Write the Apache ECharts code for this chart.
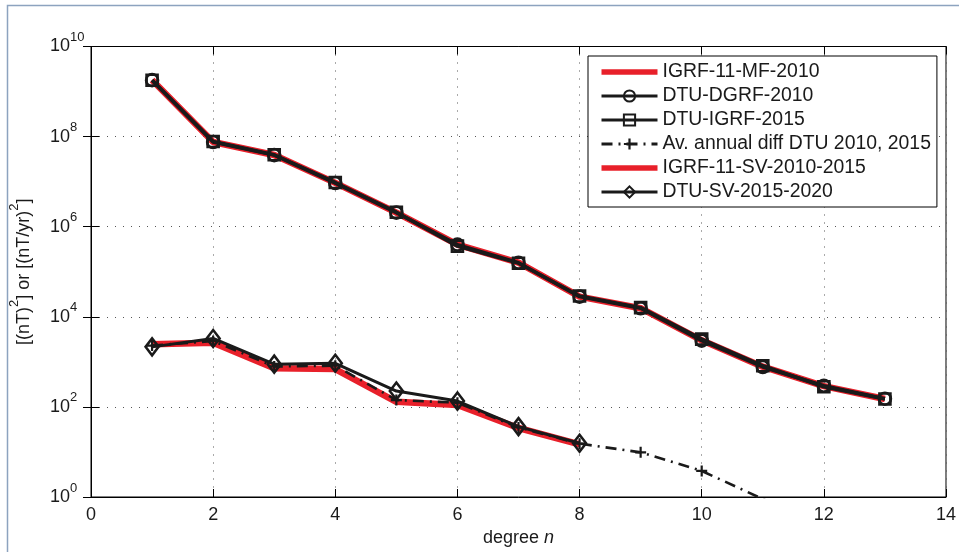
<!DOCTYPE html>
<html>
<head>
<meta charset="utf-8">
<script src="https://cdn.jsdelivr.net/npm/echarts@6/dist/echarts.min.js"></script>
<style>
  html, body { margin: 0; padding: 0; background: #fff; }
  #chart { width: 959px; height: 552px; }
</style>
</head>
<body>
<div id="chart"></div>
<script>
// Spherical harmonic degree
const degrees = [1, 2, 3, 4, 5, 6, 7, 8, 9, 10, 11, 12, 13];

// Main field power spectra [(nT)^2]
const igrfMf2010 = [1.80e9, 7.6e7, 3.9e7, 9.4e6, 2.05e6, 4.0e5, 1.6e5, 2.8e4, 1.55e4, 3.0e3, 780, 290, 150];
const dtuDgrf2010 = [1.79e9, 7.6e7, 3.88e7, 9.3e6, 2.05e6, 4.0e5, 1.58e5, 2.8e4, 1.55e4, 2.95e3, 770, 295, 152];
const dtuIgrf2015 = [1.78e9, 7.8e7, 3.95e7, 9.6e6, 2.1e6, 3.7e5, 1.55e5, 2.9e4, 1.6e4, 3.2e3, 820, 280, 150];

// Secular variation spectra [(nT/yr)^2]
const avAnnualDiff = [2300, 2900, 790, 820, 142, 124, 35, 15.3, 9.8, 3.8, 0.9, 0.35, 0.2];
const igrfSv20102015 = [2450, 2650, 720, 690, 130, 110, 34, 14.8];
const dtuSv20152020 = [2150, 3300, 890, 930, 225, 135, 36.5, 15.6];

// Axis ranges
const xTicks = { min: 0, max: 14, step: 2 };
const yRange = { min: 1, max: 1e10 };

const RED = '#e8202a';
const INK = '#1a1a1a';
const HOLLOW = 'rgba(0,0,0,0)';
const FONT = '"Liberation Sans", Arial, Helvetica, sans-serif';

// thick flat bar used as the legend swatch of the plain red curves
const RED_BAR_ICON = 'path://M0,0H56V5.7H0Z';

const pairs = (vals) => vals.map((v, i) => [degrees[i], v]);

const chart = echarts.init(document.getElementById('chart'), null, { renderer: 'canvas' });

const supRich = {
  b: { fontSize: 18, lineHeight: 20, verticalAlign: 'middle', color: INK, fontFamily: FONT },
  s: { fontSize: 13, lineHeight: 13, padding: [0, 0, 18, 0], verticalAlign: 'middle', color: INK, fontFamily: FONT }
};

const gridRect = { left: 91, right: 11, top: 46.5, bottom: 55 };

const xCommon = {
  type: 'value', min: xTicks.min, max: xTicks.max, interval: xTicks.step,
  axisTick: { show: true, inside: true, length: 8, lineStyle: { color: '#000', width: 1 } },
  axisLine: { show: true, lineStyle: { color: '#000', width: 1 } }
};
const yCommon = {
  type: 'log', logBase: 10, min: yRange.min, max: yRange.max, interval: 2,
  axisTick: { show: true, inside: true, length: 8, lineStyle: { color: '#000', width: 1 } },
  axisLine: { show: true, lineStyle: { color: '#000', width: 1 } }
};

const markerStyle = { color: HOLLOW, borderColor: INK, borderWidth: 2.6 };

const option = {
  animation: false,
  backgroundColor: '#fff',
  textStyle: { fontFamily: FONT },
  graphic: [{
    type: 'rect', silent: true, z: -10,
    shape: { x: 7.5, y: 5.5, width: 1000, height: 600 },
    style: { fill: null, stroke: '#8da3bf', lineWidth: 1.5 }
  }],
  grid: Object.assign({ show: true, borderColor: '#000', borderWidth: 1, backgroundColor: '#fff' }, gridRect),
  legend: {
    orient: 'vertical', left: 588, top: 56,
    padding: [6, 6, 5, 12],
    itemWidth: 56, itemHeight: 14, itemGap: 4,
    backgroundColor: '#fff', borderColor: '#000', borderWidth: 1,
    lineStyle: { width: 3 },
    textStyle: { fontSize: 19.4, lineHeight: 20, color: INK, fontFamily: FONT },
    data: [
      { name: 'IGRF-11-MF-2010', icon: RED_BAR_ICON },
      'DTU-DGRF-2010',
      'DTU-IGRF-2015',
      'Av. annual diff DTU 2010, 2015',
      { name: 'IGRF-11-SV-2010-2015', icon: RED_BAR_ICON },
      'DTU-SV-2015-2020'
    ]
  },
  xAxis: [
    Object.assign({}, xCommon, {
      position: 'bottom',
      name: '{t|degree }{i|n}', nameLocation: 'middle', nameGap: 31,
      nameTextStyle: { rich: {
        t: { fontSize: 18, color: INK, fontFamily: FONT },
        i: { fontSize: 18, fontStyle: 'italic', color: INK, fontFamily: FONT }
      } },
      axisLabel: { fontSize: 18, color: INK, margin: 9, fontFamily: FONT },
      splitLine: { show: true, lineStyle: { color: '#555', width: 1, type: [1, 7] } }
    }),
    Object.assign({}, xCommon, {
      position: 'top', axisLabel: { show: false }, splitLine: { show: false }
    })
  ],
  yAxis: [
    Object.assign({}, yCommon, {
      position: 'left',
      name: '{b|[(nT)}{s|2}{b|] or [(nT/yr)}{s|2}{b|]}',
      nameLocation: 'middle', nameGap: 47, nameRotate: 90,
      nameTextStyle: { rich: supRich },
      axisLabel: {
        align: 'left', margin: 41,
        formatter: (v) => '{b|10}{s|' + Math.round(Math.log10(v)) + '}',
        rich: supRich
      },
      splitLine: { show: true, lineStyle: { color: '#555', width: 1, type: [1, 7] } }
    }),
    Object.assign({}, yCommon, {
      position: 'right', axisLabel: { show: false }, splitLine: { show: false }
    })
  ],
  series: [
    {
      name: 'IGRF-11-MF-2010', type: 'line', data: pairs(igrfMf2010),
      symbol: 'none', clip: true, z: 2,
      lineStyle: { color: RED, width: 6.5 }, itemStyle: { color: RED }
    },
    {
      name: 'DTU-DGRF-2010', type: 'line', data: pairs(dtuDgrf2010),
      symbol: 'circle', symbolSize: 12, clip: true, z: 3,
      lineStyle: { color: INK, width: 3.5 },
      itemStyle: markerStyle
    },
    {
      name: 'DTU-IGRF-2015', type: 'line', data: pairs(dtuIgrf2015),
      symbol: 'rect', symbolSize: 11, clip: true, z: 3,
      lineStyle: { color: INK, width: 3.5 },
      itemStyle: markerStyle
    },
    {
      name: 'IGRF-11-SV-2010-2015', type: 'line', data: pairs(igrfSv20102015),
      symbol: 'none', clip: true, z: 2,
      lineStyle: { color: RED, width: 6.5 }, itemStyle: { color: RED }
    },
    {
      name: 'Av. annual diff DTU 2010, 2015', type: 'line', data: pairs(avAnnualDiff),
      symbol: 'path://M4,0H6V4H10V6H6V10H4V6H0V4H4Z', symbolSize: 11, clip: true, z: 3,
      lineStyle: { color: INK, width: 2.6, type: [11, 6, 2, 6] },
      itemStyle: { color: INK }
    },
    {
      name: 'DTU-SV-2015-2020', type: 'line', data: pairs(dtuSv20152020),
      symbol: 'diamond', symbolSize: [13, 17], clip: true, z: 4,
      lineStyle: { color: INK, width: 3 },
      itemStyle: markerStyle
    }
  ]
};

chart.setOption(option);
</script>
</body>
</html>
